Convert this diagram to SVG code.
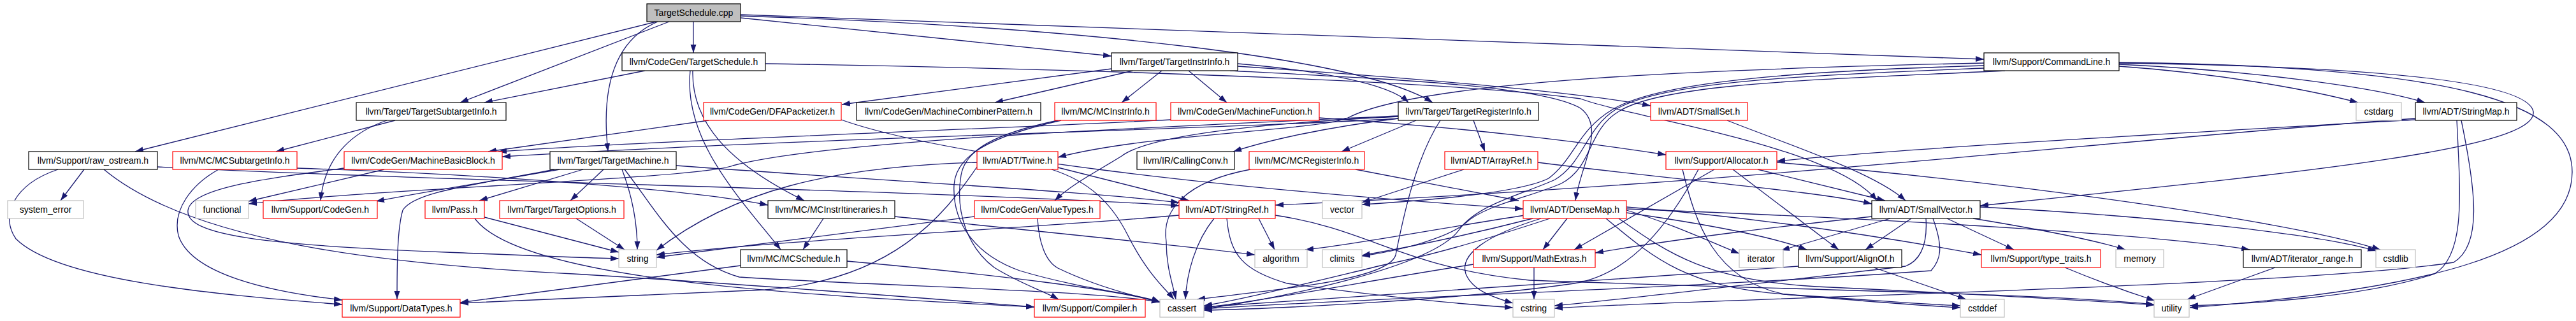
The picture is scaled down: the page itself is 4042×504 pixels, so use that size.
<svg xmlns="http://www.w3.org/2000/svg" width="4042" height="504" viewBox="0 0 4042 504">
<defs>
<style>
.nd rect{fill:#fff;stroke:#000;stroke-width:1.2}
.nd.r rect{stroke:#ff0000}
.nd.g rect{stroke:#bfbfbf}
.nd.root rect{fill:#bfbfbf}
.nd text{font-family:"Liberation Sans",Arial,Helvetica,sans-serif;font-size:14px;text-anchor:middle;fill:#000}
#edges path{fill:none;stroke:#191970;stroke-width:1.3;marker-end:url(#arr)}
</style>
<marker id="arr" markerUnits="userSpaceOnUse" markerWidth="14" markerHeight="10" refX="13" refY="5" orient="auto"><path d="M0,0.5 L13,5 L0,9.5 Z" fill="#191970"/></marker>
</defs>
<rect width="4042" height="504" fill="#fff"/>
<g id="edges">
<path d="M1088,34 L1088,83"/>
<path d="M1050,34 L722,161"/>
<path d="M1012,111 L760,161"/>
<path d="M1030,34 L212,238"/>
<path d="M1032,34 C968,62 942,130 954,238"/>
<path d="M1162,28 L1744,88"/>
<path d="M1162,23 L3113,93"/>
<path d="M1162,25 C1700,42 2140,92 2248,161"/>
<path d="M1087,111 C1085,190 1140,255 1262,315"/>
<path d="M1083,111 C1072,220 1160,310 1225,392"/>
<path d="M1201,100 C1800,110 2300,130 2480,155 C2560,185 2880,230 2945,315"/>
<path d="M1744,108 L1321,164"/>
<path d="M1778,111 L1561,161"/>
<path d="M1823,111 L1760,161"/>
<path d="M1865,111 L1925,161"/>
<path d="M1942,100 C2060,110 2180,130 2210,161"/>
<path d="M1942,104 C2150,118 2450,140 2590,166"/>
<path d="M1930,111 C2200,125 2420,135 2480,170 C2520,200 2480,260 2472,315"/>
<path d="M3325,104 C3480,115 3620,140 3700,161"/>
<path d="M3325,101 C3520,110 3720,135 3805,161"/>
<path d="M3325,99 C3700,104 3965,125 3975,175 C3985,235 3600,272 3107,323"/>
<path d="M3325,98 C3850,104 4036,160 4036,270 C4036,400 3800,455 3436,483"/>
<path d="M3113,99 C2700,108 2230,125 2115,185 C2070,205 1800,210 1660,247"/>
<path d="M3113,103 C2800,112 2600,130 2530,172 C2475,205 2470,250 2430,280 C2380,305 2220,316 2137,321"/>
<path d="M3146,111 C2860,125 2610,130 2540,175 C2490,205 2500,262 2450,288 C2400,310 2330,322 2300,350 C2270,375 2190,395 2137,402"/>
<path d="M3113,107 C2850,118 2610,126 2535,172 C2488,202 2485,255 2440,282 C2390,305 2320,320 2290,360 C2250,420 2000,470 1889,485"/>
<path d="M132,266 L95,315"/>
<path d="M91,266 C20,290 0,340 25,375 C90,440 330,462 537,478"/>
<path d="M247,262 C700,285 1500,300 1850,323"/>
<path d="M163,266 C300,380 600,415 900,430 C1200,448 1450,468 1623,482"/>
<path d="M466,264 C800,275 1100,300 1205,322"/>
<path d="M343,266 C300,290 270,330 280,370 C300,430 420,458 537,471"/>
<path d="M620,189 L433,238"/>
<path d="M607,189 C560,205 510,240 503,315"/>
<path d="M603,266 L390,316"/>
<path d="M540,264 C420,280 300,295 295,330 C290,370 420,385 700,396 C850,402 920,405 971,406"/>
<path d="M1112,189 L766,238"/>
<path d="M1320,188 C1480,245 1900,295 2390,328"/>
<path d="M1837,188 C1500,205 1000,222 782,238"/>
<path d="M2222,189 L2105,238"/>
<path d="M2312,189 L2330,238"/>
<path d="M2194,186 C2080,200 1990,220 1935,238"/>
<path d="M2194,183 C1950,195 1800,215 1760,245 C1720,270 1680,290 1655,315"/>
<path d="M2194,186 C2000,200 1300,215 788,246"/>
<path d="M2194,182 C1800,200 1300,220 1150,260 C1100,280 600,296 390,320"/>
<path d="M2260,189 C2220,250 2200,350 2190,400 C2180,440 2000,455 1878,470"/>
<path d="M1660,189 C1560,210 1515,235 1508,275 C1498,335 1520,390 1560,420 C1600,445 1640,458 1661,470"/>
<path d="M1665,189 C1550,215 1500,245 1497,290 C1494,350 1530,400 1600,425 C1700,455 1790,462 1820,474"/>
<path d="M1628,343 C1630,380 1640,410 1660,421 C1720,450 1780,465 1820,474"/>
<path d="M1529,340 L1030,404"/>
<path d="M1650,266 C1710,285 1745,320 1770,370 C1800,430 1830,455 1842,470"/>
<path d="M1660,263 L1866,315"/>
<path d="M1533,255 C1300,262 1150,300 1030,393"/>
<path d="M1533,262 C1480,340 1400,440 1200,455 C1000,465 850,470 722,476"/>
<path d="M1975,343 L2000,392"/>
<path d="M1905,343 C1875,380 1862,430 1860,470"/>
<path d="M1925,343 C1930,400 1950,425 2020,445 C2200,470 2300,478 2374,483"/>
<path d="M1850,338 C1600,360 1250,375 1030,400"/>
<path d="M2001,338 C2150,360 2200,420 2400,440 C2800,455 3200,460 3380,478"/>
<path d="M2392,338 C2250,360 2120,385 2048,392"/>
<path d="M2405,343 C2300,370 2200,390 2137,401"/>
<path d="M2418,343 C2330,370 2290,400 2300,430 C2310,455 2340,466 2374,476"/>
<path d="M2459,343 L2421,392"/>
<path d="M2432,343 C2350,370 2250,400 2175,415 C2050,445 1950,470 1889,480"/>
<path d="M2552,330 C2620,350 2680,378 2729,398"/>
<path d="M2552,325 C2800,345 3000,380 3109,400"/>
<path d="M2552,334 C2700,355 2790,375 2835,392"/>
<path d="M2540,343 C2620,400 2680,440 2850,450 C3100,462 3280,472 3380,479"/>
<path d="M2520,343 C2600,410 2650,450 2800,462 C2950,472 3020,478 3076,480"/>
<path d="M2552,328 C3000,345 3400,370 3530,392"/>
<path d="M2407,420 L2407,470"/>
<path d="M2312,415 C2150,440 2000,470 1889,483"/>
<path d="M2966,343 L2795,393"/>
<path d="M2999,343 L2927,392"/>
<path d="M3055,343 L3160,392"/>
<path d="M3096,343 C3200,360 3290,378 3335,392"/>
<path d="M2937,340 C2800,355 2650,372 2503,397"/>
<path d="M3022,343 C3025,390 3010,410 2990,418 C2800,440 2550,470 2439,480"/>
<path d="M3033,343 C3050,390 3045,408 3030,425 C2700,450 2100,470 1889,485"/>
<path d="M3107,325 C3400,340 3650,370 3728,394"/>
<path d="M2940,420 L3085,470"/>
<path d="M2822,418 C2500,440 2100,470 1889,482"/>
<path d="M3240,420 C3300,445 3350,462 3381,472"/>
<path d="M3570,420 L3432,470"/>
<path d="M2719,266 L2885,392"/>
<path d="M2758,266 L2958,315"/>
<path d="M2690,266 L2470,392"/>
<path d="M2665,266 C2620,350 2560,430 2470,445 C2300,470 2000,485 1889,487"/>
<path d="M2788,255 C3200,290 3600,350 3735,392"/>
<path d="M2640,266 C2660,350 2690,440 2800,462 C2950,475 3020,480 3076,483"/>
<path d="M3790,188 C3400,210 3000,232 2788,253"/>
<path d="M3790,186 C3300,220 2800,285 2001,322"/>
<path d="M3855,189 C3860,300 3870,400 3820,430 C3700,470 3500,478 3436,480"/>
<path d="M3862,189 C3885,300 3895,385 3850,412 C3600,450 2700,468 2439,484"/>
<path d="M2127,266 L2383,315"/>
<path d="M1962,266 C1860,285 1822,330 1830,380 C1830,420 1840,445 1845,470"/>
<path d="M1292,343 L1260,392"/>
<path d="M1404,340 C1600,360 1850,385 1969,400"/>
<path d="M1162,417 L722,475"/>
<path d="M1329,410 C1550,430 1760,455 1820,475"/>
<path d="M915,266 L752,315"/>
<path d="M947,266 L895,315"/>
<path d="M976,266 C989,300 1000,340 1000,392"/>
<path d="M980,266 C1030,330 1070,410 1160,435 C1400,450 1700,455 1820,474"/>
<path d="M878,266 C800,280 700,295 590,316"/>
<path d="M870,266 C750,290 650,300 632,330 C623,360 623,420 623,470"/>
<path d="M1061,260 C1400,285 1700,300 1850,318"/>
<path d="M760,341 L971,396"/>
<path d="M745,343 C820,445 1300,465 1623,482"/>
<path d="M904,343 L980,392"/>
<path d="M2297,266 L2137,318"/>
<path d="M2413,255 C2650,285 2850,300 2937,320"/>
<path d="M2710,189 C2800,225 2940,270 2990,315"/>
<path d="M2070,185 C2300,200 2500,225 2614,243"/>
</g>
<g id="node-cpp" class="nd root"><rect x="1015" y="6" width="147" height="28"/><text x="1088.5" y="25">TargetSchedule.cpp</text></g>
<g id="node-TSh" class="nd"><rect x="976" y="83" width="225" height="28"/><text x="1088.5" y="102">llvm/CodeGen/TargetSchedule.h</text></g>
<g id="node-TII" class="nd"><rect x="1744" y="83" width="198" height="28"/><text x="1843" y="102">llvm/Target/TargetInstrInfo.h</text></g>
<g id="node-CL" class="nd"><rect x="3113" y="83" width="212" height="28"/><text x="3219" y="102">llvm/Support/CommandLine.h</text></g>
<g id="node-TSI" class="nd"><rect x="559" y="161" width="235" height="28"/><text x="676.5" y="180">llvm/Target/TargetSubtargetInfo.h</text></g>
<g id="node-DFA" class="nd r"><rect x="1104" y="161" width="216" height="28"/><text x="1212" y="180">llvm/CodeGen/DFAPacketizer.h</text></g>
<g id="node-MCP" class="nd"><rect x="1344" y="161" width="289" height="28"/><text x="1488.5" y="180">llvm/CodeGen/MachineCombinerPattern.h</text></g>
<g id="node-MCII" class="nd r"><rect x="1655" y="161" width="159" height="28"/><text x="1734.5" y="180">llvm/MC/MCInstrInfo.h</text></g>
<g id="node-MF" class="nd r"><rect x="1837" y="161" width="233" height="28"/><text x="1953.5" y="180">llvm/CodeGen/MachineFunction.h</text></g>
<g id="node-TRI" class="nd"><rect x="2194" y="161" width="220" height="28"/><text x="2304" y="180">llvm/Target/TargetRegisterInfo.h</text></g>
<g id="node-SS" class="nd r"><rect x="2590" y="161" width="152" height="28"/><text x="2666" y="180">llvm/ADT/SmallSet.h</text></g>
<g id="node-cstdarg" class="nd g"><rect x="3697" y="161" width="71" height="28"/><text x="3732.5" y="180">cstdarg</text></g>
<g id="node-SM" class="nd"><rect x="3790" y="161" width="159" height="28"/><text x="3869.5" y="180">llvm/ADT/StringMap.h</text></g>
<g id="node-RO" class="nd"><rect x="45" y="238" width="202" height="28"/><text x="146" y="257">llvm/Support/raw_ostream.h</text></g>
<g id="node-MCSI" class="nd r"><rect x="271" y="238" width="195" height="28"/><text x="368.5" y="257">llvm/MC/MCSubtargetInfo.h</text></g>
<g id="node-MBB" class="nd r"><rect x="540" y="238" width="248" height="28"/><text x="664" y="257">llvm/CodeGen/MachineBasicBlock.h</text></g>
<g id="node-TM" class="nd"><rect x="863" y="238" width="198" height="28"/><text x="962" y="257">llvm/Target/TargetMachine.h</text></g>
<g id="node-Twine" class="nd r"><rect x="1533" y="238" width="127" height="28"/><text x="1596.5" y="257">llvm/ADT/Twine.h</text></g>
<g id="node-CC" class="nd"><rect x="1784" y="238" width="153" height="28"/><text x="1860.5" y="257">llvm/IR/CallingConv.h</text></g>
<g id="node-MCRI" class="nd r"><rect x="1960" y="238" width="181" height="28"/><text x="2050.5" y="257">llvm/MC/MCRegisterInfo.h</text></g>
<g id="node-AR" class="nd r"><rect x="2267" y="238" width="146" height="28"/><text x="2340" y="257">llvm/ADT/ArrayRef.h</text></g>
<g id="node-Alloc" class="nd r"><rect x="2614" y="238" width="174" height="28"/><text x="2701" y="257">llvm/Support/Allocator.h</text></g>
<g id="node-syserr" class="nd g"><rect x="12" y="315" width="119" height="28"/><text x="71.5" y="334">system_error</text></g>
<g id="node-functional" class="nd g"><rect x="307" y="315" width="83" height="28"/><text x="348.5" y="334">functional</text></g>
<g id="node-CG" class="nd r"><rect x="413" y="315" width="179" height="28"/><text x="502.5" y="334">llvm/Support/CodeGen.h</text></g>
<g id="node-Pass" class="nd r"><rect x="667" y="315" width="93" height="28"/><text x="713.5" y="334">llvm/Pass.h</text></g>
<g id="node-TO" class="nd r"><rect x="784" y="315" width="195" height="28"/><text x="881.5" y="334">llvm/Target/TargetOptions.h</text></g>
<g id="node-MCIt" class="nd"><rect x="1205" y="315" width="199" height="28"/><text x="1304.5" y="334">llvm/MC/MCInstrItineraries.h</text></g>
<g id="node-VT" class="nd r"><rect x="1529" y="315" width="197" height="28"/><text x="1627.5" y="334">llvm/CodeGen/ValueTypes.h</text></g>
<g id="node-SR" class="nd r"><rect x="1850" y="315" width="151" height="28"/><text x="1925.5" y="334">llvm/ADT/StringRef.h</text></g>
<g id="node-vector" class="nd g"><rect x="2075" y="315" width="62" height="28"/><text x="2106" y="334">vector</text></g>
<g id="node-DM" class="nd r"><rect x="2390" y="315" width="162" height="28"/><text x="2471" y="334">llvm/ADT/DenseMap.h</text></g>
<g id="node-SV" class="nd"><rect x="2937" y="315" width="170" height="28"/><text x="3022" y="334">llvm/ADT/SmallVector.h</text></g>
<g id="node-string" class="nd g"><rect x="971" y="392" width="59" height="28"/><text x="1000.5" y="411">string</text></g>
<g id="node-MCS" class="nd"><rect x="1162" y="392" width="167" height="28"/><text x="1245.5" y="411">llvm/MC/MCSchedule.h</text></g>
<g id="node-algorithm" class="nd g"><rect x="1969" y="392" width="82" height="28"/><text x="2010" y="411">algorithm</text></g>
<g id="node-climits" class="nd g"><rect x="2075" y="392" width="62" height="28"/><text x="2106" y="411">climits</text></g>
<g id="node-ME" class="nd r"><rect x="2312" y="392" width="191" height="28"/><text x="2407.5" y="411">llvm/Support/MathExtras.h</text></g>
<g id="node-iterator" class="nd g"><rect x="2729" y="392" width="69" height="28"/><text x="2763.5" y="411">iterator</text></g>
<g id="node-AO" class="nd"><rect x="2822" y="392" width="162" height="28"/><text x="2903" y="411">llvm/Support/AlignOf.h</text></g>
<g id="node-TT" class="nd r"><rect x="3109" y="392" width="187" height="28"/><text x="3202.5" y="411">llvm/Support/type_traits.h</text></g>
<g id="node-memory" class="nd g"><rect x="3320" y="392" width="75" height="28"/><text x="3357.5" y="411">memory</text></g>
<g id="node-IR" class="nd"><rect x="3520" y="392" width="185" height="28"/><text x="3612.5" y="411">llvm/ADT/iterator_range.h</text></g>
<g id="node-cstdlib" class="nd g"><rect x="3728" y="392" width="62" height="28"/><text x="3759" y="411">cstdlib</text></g>
<g id="node-DT" class="nd r"><rect x="537" y="470" width="185" height="28"/><text x="629.5" y="489">llvm/Support/DataTypes.h</text></g>
<g id="node-Comp" class="nd r"><rect x="1623" y="470" width="174" height="28"/><text x="1710" y="489">llvm/Support/Compiler.h</text></g>
<g id="node-cassert" class="nd g"><rect x="1820" y="470" width="69" height="28"/><text x="1854.5" y="489">cassert</text></g>
<g id="node-cstring" class="nd g"><rect x="2374" y="470" width="65" height="28"/><text x="2406.5" y="489">cstring</text></g>
<g id="node-cstddef" class="nd g"><rect x="3076" y="470" width="69" height="28"/><text x="3110.5" y="489">cstddef</text></g>
<g id="node-utility" class="nd g"><rect x="3380" y="470" width="55" height="28"/><text x="3407.5" y="489">utility</text></g>
</svg>
